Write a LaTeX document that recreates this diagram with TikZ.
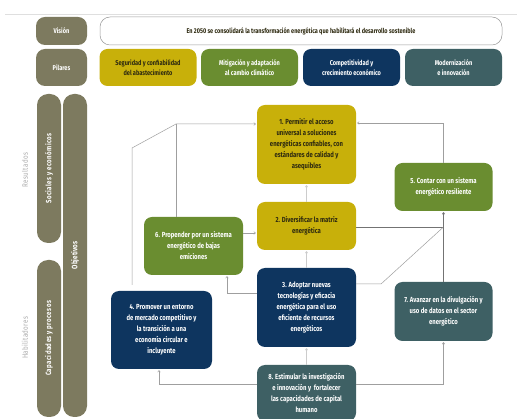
\documentclass[tikz,border=0pt]{standalone}
\usepackage{fontspec}
\setmainfont{Fira Sans}[FakeStretch=0.8]
\usetikzlibrary{arrows.meta}
\definecolor{olive}{HTML}{7D7A5F}
\definecolor{cyel}{HTML}{C8B00A}
\definecolor{cgreen}{HTML}{6A8D30}
\definecolor{cnavy}{HTML}{0E355F}
\definecolor{cteal}{HTML}{3E6064}
\definecolor{ctxt}{HTML}{2E2A10}
\tikzset{
  pill/.style={fill=olive, rounded corners=9pt, inner sep=0pt, text=white, font=\bfseries\fontsize{7}{8}\selectfont},
  rotlabel/.style={rotate=90, text=white, font=\bfseries\fontsize{7.6}{8}\selectfont\addfontfeature{LetterSpace=6,Ligatures=NoCommon}},
  objlabel/.style={rotate=90, text=white, font=\bfseries\fontsize{7.8}{8}\selectfont},
  sidelabel/.style={rotate=90, text=gray!65, font=\fontsize{7.8}{8}\selectfont\addfontfeature{LetterSpace=4,Ligatures=NoCommon}},
  pillar/.style={rounded corners=8pt, inner sep=0pt, minimum width=97pt, minimum height=37pt, align=center, font=\bfseries\fontsize{7}{10.5}\selectfont},
  box/.style={rounded corners=8pt, inner sep=0pt, align=center, font=\bfseries\fontsize{7.4}{11}\selectfont},
  conn/.style={draw=gray!75, line width=0.5pt},
  darkconn/.style={draw=gray!110, line width=0.6pt},
  lightconn/.style={draw=gray!40, line width=0.5pt},
  tip/.style={-{To[length=2.2pt,width=3pt]}, shorten >=1pt}
}
\begin{document}
\begin{tikzpicture}[x=1pt,y=-1pt]
\useasboundingbox (0,0) rectangle (517,419);
\fill[white] (0,0) rectangle (517,419);
\draw[gray!25, line width=0.5pt] (5,14) -- (517,14);

% header
\node[pill, minimum width=51pt, minimum height=28pt] (vis) at (61.5,31) {Visión};
\node[draw=gray!80, line width=0.5pt, rounded corners=10pt, minimum width=402pt, minimum height=28pt, inner sep=0pt, text=ctxt, font=\bfseries\fontsize{6.9}{8}\selectfont] (vbar) at (301,31) {En 2050 se consolidará la transformación energética que habilitará el desarrollo sostenible};
\node[pill, minimum width=51pt, minimum height=37pt] (pil) at (61.5,67.5) {Pilares};
\node[pillar, fill=cyel, text=ctxt] (p1) at (148,67.5) {Seguridad y confiabilidad\\del abastecimiento};
\node[pillar, fill=cgreen, text=white] (p2) at (249.5,67.5) {Mitigación y adaptación\\al cambio climático};
\node[pillar, fill=cnavy, text=white] (p3) at (351.5,67.5) {Competitividad y\\crecimiento económico};
\node[pillar, fill=cteal, text=white] (p4) at (453.5,67.5) {Modernización\\e innovación};

% left column
\node[pill, rounded corners=11pt, minimum width=24pt, minimum height=149pt] (soc) at (49,168.5) {};
\node[rotlabel] (soct) at (soc.center) {Sociales y económicos};
\node[pill, rounded corners=11pt, minimum width=24pt, minimum height=157pt] (cap) at (49,338.5) {};
\node[rotlabel] (capt) at (cap.center) {Capacidades y procesos};
\node[pill, rounded corners=11pt, minimum width=24pt, minimum height=323pt] (obj) at (75,255.5) {};
\node[objlabel] (objt) at (obj.center) {Objetivos};
\node[sidelabel] (res) at (25,170) {Resultados};
\node[sidelabel] (hab) at (25,338) {Habilitadores};

% objective boxes
\node[box, fill=cyel, text=ctxt, minimum width=99pt, minimum height=79pt] (n1) at (306.5,144.5) {1. Permitir el acceso\\universal a soluciones\\energéticas confiables, con\\estándares de calidad y\\asequibles};
\node[box, fill=cyel, text=ctxt, minimum width=99pt, minimum height=48pt] (n2) at (306.5,226) {2. Diversificar la matriz\\energética};
\node[box, fill=cnavy, text=white, minimum width=99pt, minimum height=79pt] (n3) at (306.5,307.5) {3. Adoptar nuevas\\tecnologías y eficacia\\energética para el uso\\eficiente de recursos\\energéticos};
\node[box, fill=cnavy, text=white, minimum width=101pt, minimum height=78pt] (n4) at (161.5,330) {4. Promover un entorno\\de mercado competitivo y\\la transición a una\\economía circular e\\incluyente};
\node[box, fill=cgreen, text=white, minimum width=98pt, minimum height=48pt] (n5) at (443.5,187) {5. Contar con un sistema\\energético resiliente};
\node[box, fill=cgreen, text=white, minimum width=99pt, minimum height=58pt] (n6) at (193.5,246) {6. Propender por un sistema\\energético de bajas\\emiciones};
\node[box, fill=cteal, text=white, minimum width=98pt, minimum height=59pt] (n7) at (443.5,311.5) {7. Avanzar en la divulgación y\\uso de datos en el sector\\energético};
\node[box, fill=cteal, text=white, minimum width=99pt, minimum height=56pt] (n8) at (306.5,393) {8. Estimular la investigación\\e innovación y \ fortalecer\\las capacidades de capital\\humano};

% connectors
\coordinate (k51) at (443.5,123);
\draw[conn, tip] (n5.north) -- (k51) -- (k51 -| n1.east);
\coordinate (k1) at (176,124);
\coordinate (k2) at (132,148);
\draw[conn, tip, shorten <=6pt] (n4.north -| k2) -- (k2) -- (k1) -- (k1 -| n1.west);
\draw[conn] (n6.north -| k1) -- (k1);
\coordinate (k62) at (250,233);
\draw[conn, tip] (n6.east |- k62) -- (n2.west |- k62);
\draw[lightconn, tip] (n2.north) -- (n1.south);
\draw[lightconn, tip] (n3.north) -- (n2.south);
\draw[lightconn, tip] (n8.north) -- (n3.south);
\coordinate (k36) at (227,293);
\draw[conn, tip] (n3.west |- k36) -- (k36) -- (k36 |- n6.south);
\coordinate (k84) at (159,384);
\draw[conn, tip] (n8.west |- k84) -- (k84) -- (k84 |- n4.south);
\coordinate (k87) at (443.5,384);
\draw[conn, tip] (n8.east |- k87) -- (k87) -- (n7.south);
\coordinate (k25) at (443.5,227);
\draw[darkconn, tip] (n2.east |- k25) -- (k25) -- (n5.south);
\coordinate (k35) at (381,284);
\draw[conn] (n3.east |- k35) -- (k35) -- (k25);
\draw[darkconn] (n7.north) -- (k25);
\end{tikzpicture}
\end{document}
